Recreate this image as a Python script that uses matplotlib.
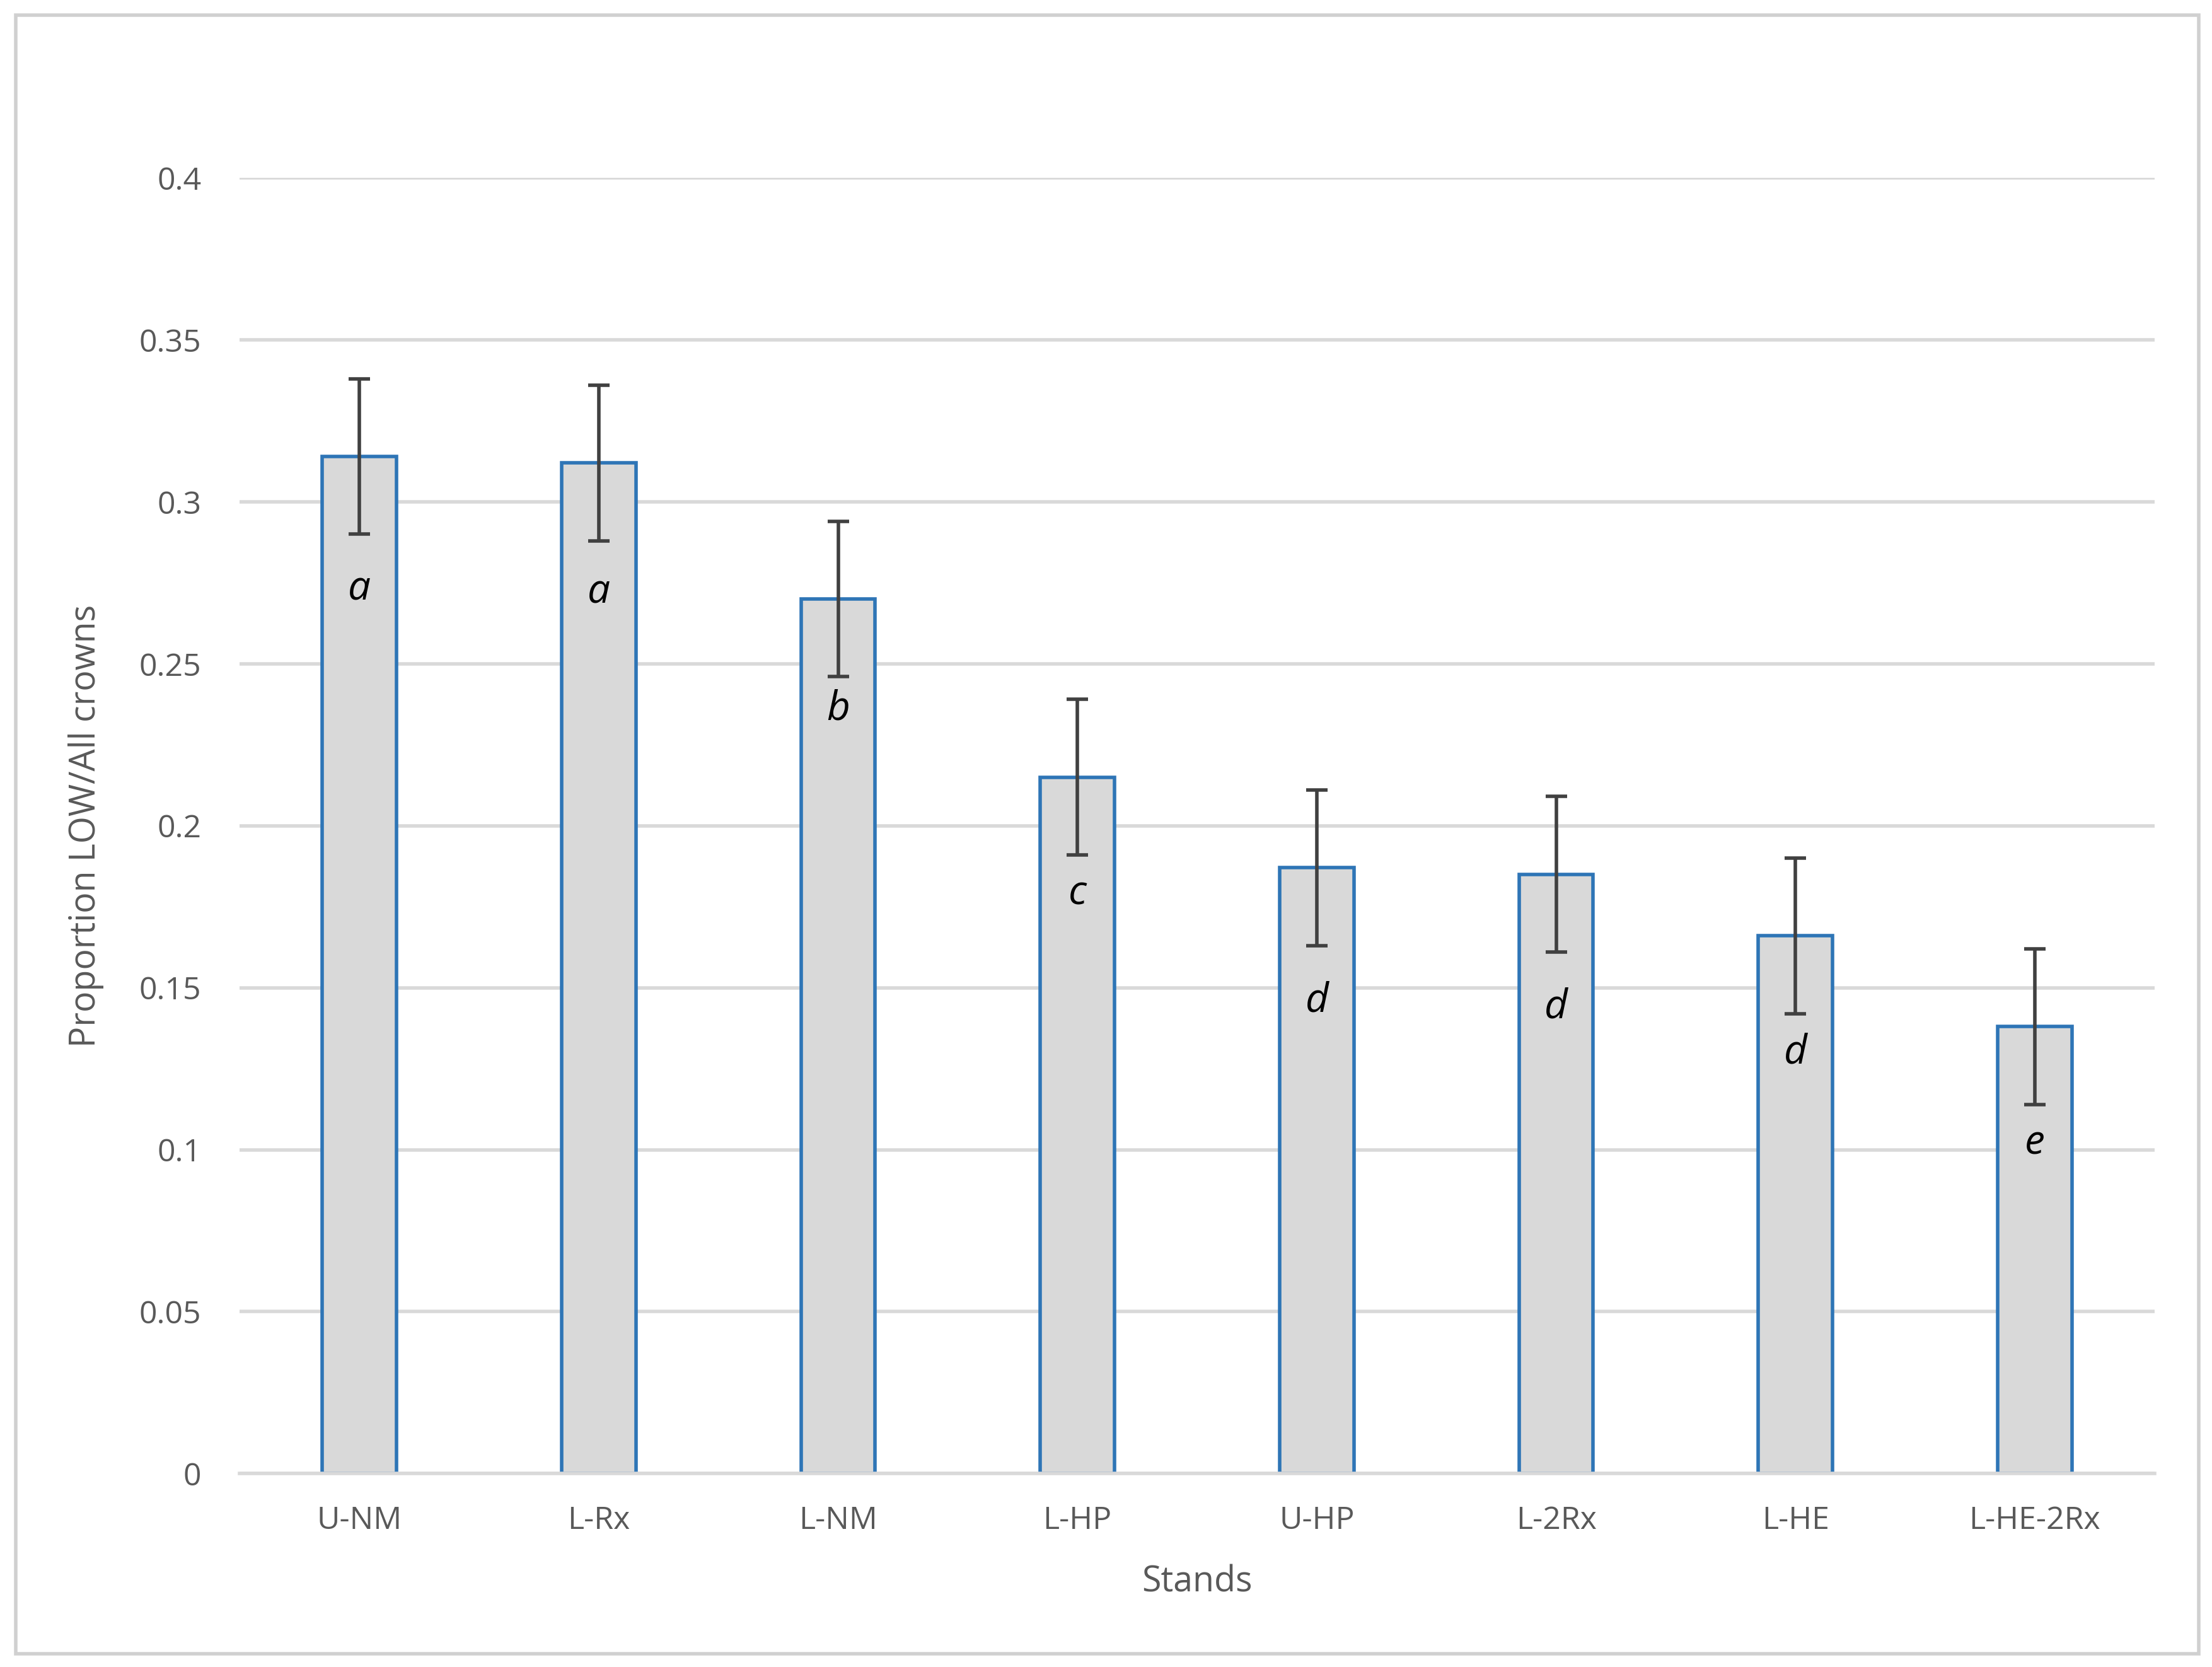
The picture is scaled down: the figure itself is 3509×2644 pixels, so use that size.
import matplotlib.pyplot as plt
from matplotlib.patches import Rectangle

stands = ["U-NM", "L-Rx", "L-NM", "L-HP", "U-HP", "L-2Rx", "L-HE", "L-HE-2Rx"]
proportion = [0.314, 0.312, 0.270, 0.215, 0.187, 0.185, 0.166, 0.138]
error = [0.024, 0.024, 0.024, 0.024, 0.024, 0.024, 0.024, 0.024]
letters = ["a", "a", "b", "c", "d", "d", "d", "e"]
letter_y = [0.273, 0.272, 0.236, 0.179, 0.146, 0.144, 0.130, 0.102]

plt.rcParams['font.family'] = ['Open Sans', 'DejaVu Sans']
fig = plt.figure(figsize=(17.545, 13.22), dpi=200)
fig.patches.append(Rectangle((0.007, 0.008), 0.987, 0.983, transform=fig.transFigure,
                             fill=False, edgecolor='#d0d0d0', linewidth=2))
ax = fig.add_axes([0.1084, 0.116, 0.8656, 0.7773])

x = range(len(stands))
ax.bar(x, proportion, width=0.31, color='#d9d9d9', edgecolor='#2e75b6', linewidth=2, zorder=2)
ax.errorbar(x, proportion, yerr=error, fmt='none', ecolor='#404040', elinewidth=2,
            capsize=6, capthick=2, zorder=3)
for i, (l, y) in enumerate(zip(letters, letter_y)):
    ax.text(i, y, l, ha='center', va='center', fontsize=23, style='italic', color='black')

ax.set_ylim(0, 0.4)
ax.set_xlim(-0.5, len(stands) - 0.5)
ax.set_yticks([0, 0.05, 0.1, 0.15, 0.2, 0.25, 0.3, 0.35, 0.4])
ax.set_yticklabels(["0", "0.05", "0.1", "0.15", "0.2", "0.25", "0.3", "0.35", "0.4"])
ax.set_xticks(list(x))
ax.set_xticklabels(stands)
ax.grid(axis='y', color='#d9d9d9', linewidth=2, zorder=0)
for s in ['top', 'right', 'left']:
    ax.spines[s].set_visible(False)
ax.spines['bottom'].set_color('#d9d9d9')
ax.spines['bottom'].set_linewidth(2)
ax.tick_params(axis='y', length=0, labelsize=18, colors='#595959', pad=22)
ax.tick_params(axis='x', length=0, labelsize=18, colors='#595959', pad=18)
ax.set_xlabel("Stands", fontsize=20, color='#595959', labelpad=16)
ax.set_ylabel("Proportion LOW/All crowns", fontsize=20, color='#595959', labelpad=20)

fig.savefig("out.png", dpi=200)
